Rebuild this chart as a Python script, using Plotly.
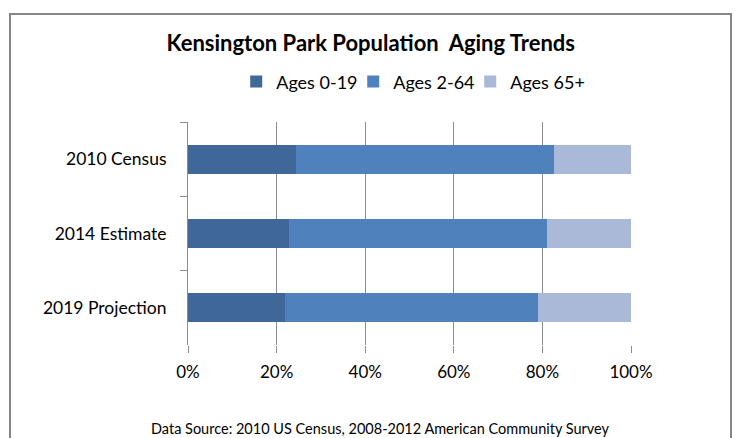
import plotly.graph_objects as go

categories = ["2010 Census", "2014 Estimate", "2019 Projection"]
series_names = ["Ages 0-19", "Ages 2-64", "Ages 65+"]
ages_0_19 = [0.244, 0.229, 0.218]
ages_20_64 = [0.582, 0.582, 0.572]
ages_65_plus = [0.174, 0.189, 0.210]
colors = ["#3F6797", "#4F81BD", "#AAB9D7"]
x_ticks = [0, 0.2, 0.4, 0.6, 0.8, 1.0]

FONT = "Lato"
GRID = "#8C8C8C"

fig = go.Figure()
for name, vals, col in zip(series_names, [ages_0_19, ages_20_64, ages_65_plus], colors):
    fig.add_trace(go.Bar(
        y=categories, x=vals, name=name, orientation="h",
        marker=dict(color=col, line=dict(width=0)),
    ))

fig.update_layout(
    width=737, height=438,
    barmode="stack", bargap=0.61,
    paper_bgcolor="white", plot_bgcolor="white",
    margin=dict(l=188, r=106, t=122, b=93),
    font=dict(family=FONT, color="#000000"),
    title=dict(text="<b>Kensington Park Population  Aging Trends</b>",
               x=0.503, xanchor="center", y=1 - 43 / 438, yanchor="middle",
               yref="container", font=dict(size=22, family=FONT, color="#000000")),
    legend=dict(orientation="h", x=0.505, xanchor="center", y=1.18, yanchor="middle",
                font=dict(size=18, family=FONT), itemwidth=30, traceorder="normal",
                entrywidth=72, bgcolor="rgba(0,0,0,0)"),
    xaxis=dict(range=[0, 1], tickvals=x_ticks, tickformat=".0%",
               showgrid=True, gridcolor=GRID, gridwidth=1,
               ticks="outside", ticklen=7, tickcolor=GRID,
               showline=False, zeroline=False, ticklabelstandoff=5,
               tickfont=dict(size=17, family=FONT, color="#000000")),
    yaxis=dict(categoryorder="array", categoryarray=categories, autorange="reversed",
               showline=True, linecolor=GRID, linewidth=1,
               ticks="outside", tickson="boundaries", ticklen=7, tickcolor=GRID,
               showgrid=False, ticklabelstandoff=17,
               tickfont=dict(size=17.5, family=FONT, color="#000000")),
    showlegend=True,
)

fig.add_annotation(text="Data Source: 2010 US Census, 2008-2012 American Community Survey",
                   xref="paper", yref="paper", x=(380 - 188) / 443, y=(345 - 428) / 223,
                   xanchor="center", yanchor="middle", showarrow=False,
                   font=dict(size=14.5, family=FONT, color="#000000"))

fig.add_shape(type="rect", xref="paper", yref="paper",
              x0=(10 - 188) / 443, x1=(731 - 188) / 443,
              y0=(345 - 445) / 223, y1=(345 - 14) / 223,
              line=dict(color="#868686", width=2), fillcolor="rgba(0,0,0,0)", layer="below")

fig.write_html("out.html", config={"displayModeBar": False},
               post_script="document.body.style.margin='0';document.body.style.overflow='hidden';")
